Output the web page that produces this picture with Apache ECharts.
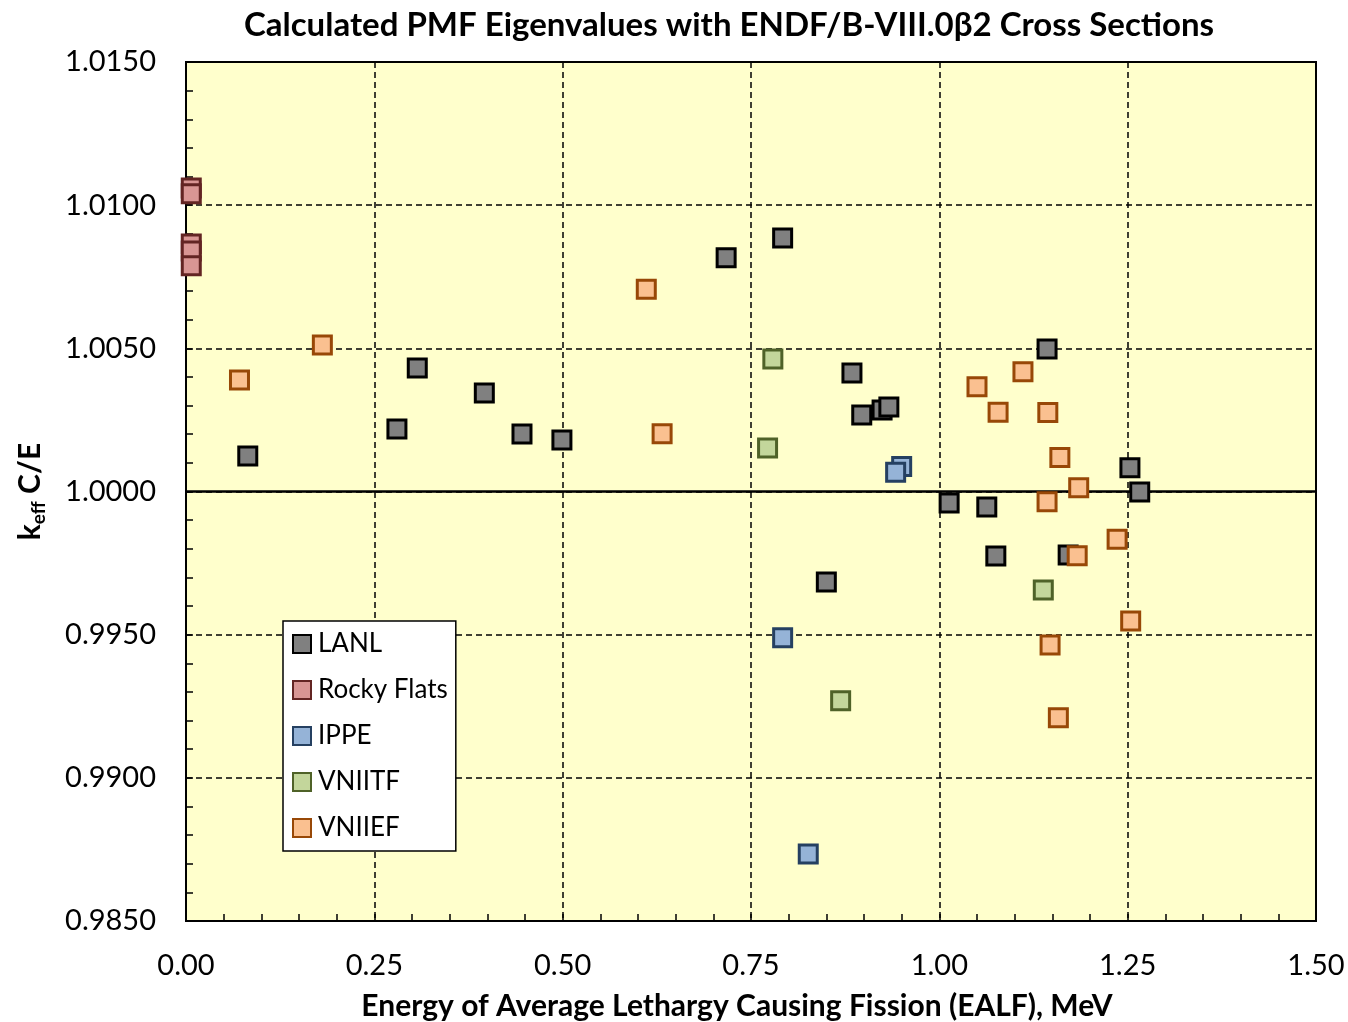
<!DOCTYPE html>
<html>
<head>
<meta charset="utf-8">
<title>PMF Eigenvalues</title>
<script src="https://cdn.jsdelivr.net/npm/echarts@6/dist/echarts.min.js"></script>
<style>
  html, body { margin: 0; padding: 0; background: #fff; }
  #chart { width: 1348px; height: 1022px; }
</style>
</head>
<body>
<div id="chart"></div>
<script>
// EALF (MeV) and keff C/E
const lanl = [
  [0.082, 1.00124], [0.280, 1.00218], [0.307, 1.00431], [0.396, 1.00344],
  [0.446, 1.00201], [0.499, 1.00180], [0.717, 1.00816], [0.792, 1.00885],
  [0.884, 1.00414], [0.897, 1.00267], [0.924, 1.00285], [0.933, 1.00295],
  [0.850, 0.99684], [1.013, 0.99960], [1.063, 0.99946], [1.075, 0.99775],
  [1.143, 1.00498], [1.171, 0.99778], [1.253, 1.00083], [1.266, 0.99998]
]
const rockyFlats = [
  [0.007, 1.01060], [0.007, 1.01040], [0.007, 1.00864], [0.007, 1.00840], [0.007, 1.00788]
]
const ippe = [
  [0.950, 1.00087], [0.942, 1.00067], [0.792, 0.99489], [0.826, 0.98734]
]
const vniitf = [
  [0.779, 1.00463], [0.772, 1.00152], [0.869, 0.99269], [1.138, 0.99656]
]
const vniief = [
  [0.071, 1.00389], [0.181, 1.00512], [0.611, 1.00706], [0.632, 1.00202],
  [1.111, 1.00418], [1.050, 1.00366], [1.078, 1.00277], [1.144, 1.00276],
  [1.160, 1.00119], [1.185, 1.00013], [1.143, 0.99964], [1.236, 0.99833],
  [1.183, 0.99776], [1.254, 0.99548], [1.147, 0.99464], [1.158, 0.99210]
]
const seriesNames = ['LANL', 'Rocky Flats', 'IPPE', 'VNIITF', 'VNIIEF']
const fills = ['#808080', '#d99694', '#95b3d7', '#c3d69b', '#fac090']
const borders = ['#000000', '#632523', '#254061', '#4f6228', '#984807']

const chart = echarts.init(document.getElementById('chart'))
const font = 'Lato, "Open Sans", sans-serif'
const allData = [lanl, rockyFlats, ippe, vniitf, vniief]

const series = allData.map(function (d, i) {
  const s = {
    name: seriesNames[i],
    type: 'scatter',
    symbol: 'rect',
    symbolSize: 18,
    data: d,
    itemStyle: {
      color: fills[i],
      borderColor: borders[i],
      borderWidth: 3,
      opacity: 1
    },
    z: 3
  }
  if (i === 0) {
    s.markLine = {
      silent: true,
      symbol: 'none',
      label: { show: false },
      lineStyle: { color: '#000', width: 2.5, type: 'solid' },
      data: [{ yAxis: 1.0 }],
      z: 2
    }
  }
  return s
})

chart.setOption({
  backgroundColor: '#fff',
  animation: false,
  textStyle: { fontFamily: font },
  title: {
    text: 'Calculated PMF Eigenvalues with ENDF/B-VIII.0β2 Cross Sections',
    left: 724,
    top: 4,
    textAlign: 'center',
    textStyle: { fontFamily: font, fontSize: 33, fontWeight: 'bold', color: '#000' }
  },
  grid: {
    left: 186,
    right: 32,
    top: 62,
    bottom: 101,
    outerBoundsMode: 'none',
    containLabel: false,
    show: true,
    backgroundColor: '#ffffcc',
    borderColor: '#000',
    borderWidth: 2
  },
  legend: {
    orient: 'vertical',
    left: 283,
    top: 621,
    padding: [10, 8, 10, 9],
    itemWidth: 18,
    itemHeight: 18,
    itemGap: 20,
    backgroundColor: '#fff',
    borderColor: '#000',
    borderWidth: 1.5,
    data: seriesNames,
    textStyle: { fontFamily: font, fontSize: 26, color: '#000', padding: [0, 0, 0, 2] }
  },
  xAxis: {
    type: 'value',
    min: 0,
    max: 1.5,
    interval: 0.25,
    name: 'Energy of Average Lethargy Causing Fission (EALF), MeV',
    nameLocation: 'middle',
    nameGap: 70,
    nameTextStyle: { fontFamily: font, fontSize: 30, fontWeight: 'bold', color: '#000', padding: [0, 0, 0, -28] },
    axisLine: { show: true, onZero: false, lineStyle: { color: '#000', width: 2 } },
    axisTick: { show: true, inside: true, length: 7, lineStyle: { color: '#000', width: 1.5 } },
    minorTick: { show: true, splitNumber: 5, length: 7, lineStyle: { color: '#000', width: 1.5 } },
    axisLabel: {
      fontFamily: font, fontSize: 29, color: '#000', margin: 30,
      formatter: function (v) { return v.toFixed(2) }
    },
    splitLine: { show: true, lineStyle: { color: '#000', width: 1.5, type: [6, 4] } }
  },
  yAxis: {
    type: 'value',
    min: 0.985,
    max: 1.015,
    interval: 0.005,
    name: '{k|k}{s|eff}{k| C/E}',
    nameLocation: 'middle',
    nameGap: 138,
    nameRotate: 90,
    nameTextStyle: {
      color: '#000',
      rich: {
        k: { fontFamily: font, fontSize: 30, fontWeight: 'bold', color: '#000', lineHeight: 36 },
        s: { fontFamily: font, fontSize: 19, fontWeight: 'bold', color: '#000', lineHeight: 24, verticalAlign: 'bottom' }
      }
    },
    axisLine: { show: true, onZero: false, lineStyle: { color: '#000', width: 2 } },
    axisTick: { show: true, inside: true, length: 7, lineStyle: { color: '#000', width: 1.5 } },
    minorTick: { show: true, splitNumber: 5, length: 7, lineStyle: { color: '#000', width: 1.5 } },
    axisLabel: {
      fontFamily: font, fontSize: 29, color: '#000', margin: 30,
      formatter: function (v) { return v.toFixed(4) }
    },
    splitLine: { show: true, lineStyle: { color: '#000', width: 1.5, type: [6, 4] } }
  },
  series: series
})
</script>
</body>
</html>
